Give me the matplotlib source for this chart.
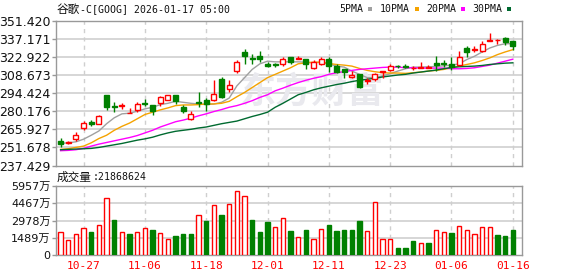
import numpy as np
import matplotlib
matplotlib.use("Agg")
import matplotlib.pyplot as plt
from matplotlib.patches import Rectangle

# ---------------- data ----------------
dates = ["10-22", "10-23", "10-24", "10-27", "10-28", "10-29", "10-30", "10-31",
         "11-03", "11-04", "11-05", "11-06", "11-07", "11-10", "11-11", "11-12",
         "11-13", "11-14", "11-17", "11-18", "11-19", "11-20", "11-21", "11-24",
         "11-25", "11-26", "11-28", "12-01", "12-02", "12-03", "12-04", "12-05",
         "12-08", "12-09", "12-10", "12-11", "12-12", "12-15", "12-16", "12-17",
         "12-18", "12-19", "12-22", "12-23", "12-24", "12-26", "12-29", "12-30",
         "12-31", "01-02", "01-05", "01-06", "01-07", "01-08", "01-09", "01-12",
         "01-13", "01-14", "01-15", "01-16"]
tick_dates = ["10-27", "11-06", "11-18", "12-01", "12-11", "12-23", "01-06", "01-16"]

opens = [256.85, 255.3, 258.66, 266.7, 271.4, 269.8, 292.9, 284.4, 284.1, 278.6,
         281.2, 287.0, 285.1, 286.4, 289.2, 292.9, 283.8, 273.7, 287.2, 289.0,
         289.0, 305.3, 297.9, 311.8, 326.8, 322.2, 323.9, 317.5, 317.5, 317.5,
         322.9, 321.4, 321.6, 314.1, 317.5, 321.4, 315.7, 313.1, 307.4, 309.7,
         304.0, 305.3, 311.3, 312.3, 316.1, 315.9, 314.0, 314.1, 314.4, 318.0,
         318.3, 317.7, 316.4, 329.7, 328.1, 327.3, 335.6, 336.1, 337.7, 335.6]
highs = [258.7, 257.1, 263.8, 272.1, 272.9, 277.5, 292.9, 287.2, 286.6, 282.5,
         287.2, 289.5, 285.1, 292.3, 292.9, 292.9, 285.1, 280.2, 294.9, 290.5,
         304.5, 307.4, 304.5, 320.1, 329.4, 325.5, 327.3, 319.0, 318.5, 322.7,
         322.9, 323.9, 321.6, 320.1, 322.9, 322.7, 317.0, 313.1, 311.8, 309.7,
         306.6, 310.5, 311.8, 317.0, 316.4, 317.5, 315.7, 318.8, 316.4, 323.4,
         320.3, 322.7, 327.3, 331.2, 331.7, 335.1, 341.8, 337.2, 338.7, 335.6]
lows = [252.0, 254.0, 256.85, 265.7, 268.2, 269.8, 281.2, 279.4, 282.0, 278.6,
        279.2, 284.1, 276.8, 284.6, 289.2, 285.9, 278.6, 272.9, 283.8, 280.2,
        287.9, 290.5, 295.2, 310.5, 317.7, 317.7, 319.0, 314.9, 315.2, 315.7,
        317.0, 321.4, 313.1, 313.6, 316.9, 311.0, 310.0, 306.6, 306.1, 298.8,
        301.9, 304.0, 306.6, 311.8, 314.4, 314.4, 312.8, 314.1, 314.1, 311.8,
        314.9, 312.6, 315.9, 322.7, 326.8, 326.5, 335.1, 333.3, 332.5, 328.6]
closes = [254.26, 255.6, 261.77, 271.1, 270.3, 276.5, 283.8, 283.2, 285.1, 279.1,
          285.9, 286.2, 280.2, 291.6, 292.9, 288.5, 280.2, 278.1, 286.4, 285.9,
          293.6, 291.1, 300.6, 319.0, 323.4, 321.4, 320.9, 315.7, 316.4, 321.4,
          318.8, 322.2, 317.5, 318.8, 321.4, 315.7, 311.3, 311.0, 308.7, 299.3,
          304.5, 309.2, 311.8, 315.9, 315.6, 315.3, 314.3, 315.1, 314.9, 316.4,
          317.5, 315.1, 322.9, 326.5, 329.4, 333.3, 336.4, 336.6, 334.3, 331.2]

ma5 = [254.78, 255.29, 256.07, 258.15, 261.26, 264.62, 270.32, 274.99, 278.10, 278.61,
       280.17, 281.98, 283.28, 285.35, 286.39, 287.94, 287.17, 286.39, 285.87, 285.35,
       285.87, 287.17, 290.53, 300.12, 306.60, 313.07, 317.48, 319.55, 319.03, 319.03,
       319.03, 319.03, 318.77, 318.26, 318.77, 317.48, 315.67, 314.89, 311.78, 309.19,
       306.60, 306.60, 307.89, 309.71, 311.78, 313.59, 314.89, 314.89, 315.15, 315.41,
       315.92, 316.44, 317.48, 320.85, 323.44, 326.81, 329.92, 331.99, 333.29, 333.29]
ma10 = [250.11, 250.63, 251.66, 252.70, 255.29, 258.67, 261.26, 265.14, 268.25, 270.84,
        274.21, 277.58, 279.39, 281.20, 282.76, 284.57, 285.09, 285.09, 285.35, 285.87,
        285.87, 286.39, 287.94, 291.57, 294.94, 298.83, 302.71, 306.60, 309.19, 311.78,
        314.37, 317.48, 318.26, 318.77, 318.77, 317.74, 316.96, 316.44, 315.67, 313.85,
        312.30, 311.26, 310.48, 310.22, 310.22, 309.96, 310.48, 311.00, 311.78, 312.30,
        313.07, 314.37, 315.67, 316.96, 318.26, 320.07, 322.14, 324.73, 326.81, 328.62]
ma20 = [249.08, 249.33, 249.85, 250.89, 252.70, 254.26, 255.55, 256.85, 258.15, 259.44,
        261.00, 263.07, 265.14, 267.73, 269.80, 271.88, 273.17, 274.73, 276.54, 278.10,
        279.91, 281.46, 283.28, 284.57, 286.39, 288.46, 291.05, 293.12, 296.23, 298.31,
        300.64, 302.71, 304.52, 306.08, 307.37, 309.19, 310.48, 311.26, 312.30, 313.07,
        313.59, 314.11, 314.63, 314.89, 314.89, 314.37, 314.37, 314.11, 314.11, 314.11,
        314.11, 313.59, 313.59, 313.85, 314.37, 315.41, 316.44, 318.00, 319.55, 321.11]
ma30 = [249.85, 250.11, 250.37, 250.63, 250.89, 251.66, 252.70, 253.74, 254.78, 256.07,
        257.37, 258.40, 259.70, 261.51, 263.07, 264.36, 265.14, 265.92, 266.96, 267.73,
        269.03, 270.32, 271.36, 272.40, 274.21, 276.02, 277.58, 279.39, 283.28, 286.39,
        289.76, 293.12, 294.94, 297.01, 298.57, 299.86, 301.16, 302.19, 303.49, 304.52,
        305.30, 306.08, 307.11, 307.89, 308.67, 309.19, 310.22, 311.00, 311.78, 312.56,
        313.59, 314.63, 315.15, 315.41, 315.67, 316.18, 316.96, 317.48, 318.00, 318.26]

volumes = [1986, 1266, 1784, 2302, 1986, 2561, 4893, 3022, 1957, 1813,
           1957, 2302, 2159, 1871, 1353, 1640, 1813, 1813, 3425, 2936,
           4288, 3454, 4403, 5497, 5094, 3022, 1986, 2849, 2389, 3166,
           2087, 1525, 2159, 1353, 2216, 2590, 2072, 2159, 2159, 2936,
           2043, 4547, 1353, 1353, 604, 604, 1209, 1007, 1036, 2159,
           1986, 1899, 2475, 2130, 1784, 2389, 2389, 1727, 1640, 2186.8624]
vol_up = [1, 1, 1, 1, 0, 1, 1, 0, 1, 0, 1, 1, 0, 1, 1, 0, 0, 0, 1, 0,
          1, 0, 1, 1, 1, 0, 0, 0, 1, 1, 0, 1, 0, 1, 1, 0, 0, 0, 0, 0,
          1, 1, 1, 1, 0, 0, 0, 1, 0, 1, 1, 0, 1, 1, 1, 1, 1, 0, 0, 0]

price_ticks = [237.429, 251.678, 265.927, 280.176, 294.424, 308.673, 322.922, 337.171, 351.420]
vol_ticks = [0, 1489, 2978, 4467, 5957]
vol_tick_labels = ["0", "1489万", "2978万", "4467万", "5957万"]

title_cjk = "谷歌"
title_rest = "-C[GOOG] 2026-01-17 05:00"
vol_title_cjk = "成交量"
vol_title_rest = ":21868624"
ma_names = ["5PMA", "10PMA", "20PMA", "30PMA"]

# ---------------- style ----------------
RED = "#ff0000"
GREEN = "#008000"
MA_COLORS = ["#a0a0a0", "#f5a300", "#ff00ff", "#006a30"]
GRID = "#cfcfcf"
FRAME = "#999999"
CJK = ["DejaVu Sans", "Noto Sans CJK SC"]

W, H = 578, 276
fig = plt.figure(figsize=(W / 100, H / 100), dpi=100)
fig.patch.set_facecolor("white")

def fx(px):
    return px / W

def fy(py):
    return 1 - py / H

ax1 = fig.add_axes([fx(56), fy(165.5), fx(522 - 56), (165.5 - 20.7) / H])
ax2 = fig.add_axes([fx(56), fy(255), fx(522 - 56), (255 - 186) / H])

x = np.arange(len(dates))
xlim = (-0.6, len(dates) + 0.2)
tick_idx = [dates.index(d) for d in tick_dates]

for ax in (ax1, ax2):
    ax.set_xlim(*xlim)
    for s in ax.spines.values():
        s.set_color(FRAME)
        s.set_linewidth(1.0)
    for t in tick_idx:
        ax.axvline(t, color=GRID, lw=1.0, dashes=(3, 3), zorder=0.5)

# price panel
ax1.set_ylim(price_ticks[0], price_ticks[-1])
for yv in price_ticks[1:-1]:
    ax1.axhline(yv, color=GRID, lw=1.2, zorder=0.5)
ax1.set_yticks(price_ticks)
ax1.set_yticklabels([f"{v:.3f}" for v in price_ticks])
ax1.tick_params(axis="y", direction="out", length=3, width=1, color=FRAME,
                labelsize=9, pad=1, labelcolor="#111111")
ax1.tick_params(axis="x", length=0, labelbottom=False)

# watermark
ax1.text(fx(312), fy(92), "东方财富", transform=fig.transFigure, fontsize=26,
         family="Noto Sans CJK SC", fontweight="bold", color="#e9e9ee",
         ha="center", va="center", zorder=0.6)

for vals, c in zip([ma5, ma10, ma20, ma30], MA_COLORS):
    ax1.plot(x, vals, color=c, lw=1.0, zorder=2)

bw = 0.64
for i in x:
    o, h, l, c = opens[i], highs[i], lows[i], closes[i]
    up = c >= o
    col = RED if up else GREEN
    ax1.vlines(i, l, h, color=col, lw=1.0, zorder=3)
    bottom = min(o, c)
    height = max(abs(c - o), 0.05)
    ax1.bar(i, height, bottom=bottom, width=bw,
            facecolor="white" if up else GREEN, edgecolor=col,
            linewidth=1.0, zorder=4)

# volume panel
ax2.set_ylim(vol_ticks[0], vol_ticks[-1])
for yv in vol_ticks[1:-1]:
    ax2.axhline(yv, color=GRID, lw=1.2, zorder=0.5)
vb = 0.58
for i in x:
    up = vol_up[i] == 1
    ax2.bar(i, volumes[i], width=vb, facecolor="white" if up else GREEN,
            edgecolor=RED if up else GREEN, linewidth=1.0, zorder=3)
ax2.set_yticks(vol_ticks)
ax2.set_yticklabels(vol_tick_labels)
for lab in ax2.get_yticklabels():
    lab.set_family(CJK)
ax2.tick_params(axis="y", direction="out", length=3, width=1, color=FRAME,
                labelsize=8.0, pad=1, labelcolor="#111111")
ax2.set_xticks(tick_idx)
ax2.set_xticklabels(tick_dates)
ax2.tick_params(axis="x", length=0, pad=4, labelsize=8, labelcolor=RED)
for lab in ax2.get_xticklabels():
    lab.set_family("DejaVu Sans Mono")

# titles / legend
fig.text(fx(57), fy(9), title_cjk, family="Noto Sans CJK SC", fontsize=8.4,
         color="#111111", ha="left", va="center")
fig.text(fx(80), fy(9), title_rest, family="DejaVu Sans Mono", fontsize=7.1,
         color="#111111", ha="left", va="center")
fig.text(fx(57), fy(177.5), vol_title_cjk, family="Noto Sans CJK SC", fontsize=8.4,
         color="#111111", ha="left", va="center")
fig.text(fx(93), fy(177.5), vol_title_rest, family="DejaVu Sans Mono", fontsize=7.1,
         color="#111111", ha="left", va="center")

leg_x = [339, 380, 426, 472]
for name, c, lx in zip(ma_names, MA_COLORS, leg_x):
    fig.text(fx(lx), fy(9), name, family="DejaVu Sans Mono", fontsize=7.1,
             color="#111111", ha="left", va="center")
    sq_x = lx + 5.95 * len(name) + 5
    fig.patches.append(Rectangle((fx(sq_x), fy(11)), 4.5 / W, 4 / H,
                                 transform=fig.transFigure, facecolor=c,
                                 edgecolor="none"))

fig.savefig("out.png", dpi=100, facecolor="white")
